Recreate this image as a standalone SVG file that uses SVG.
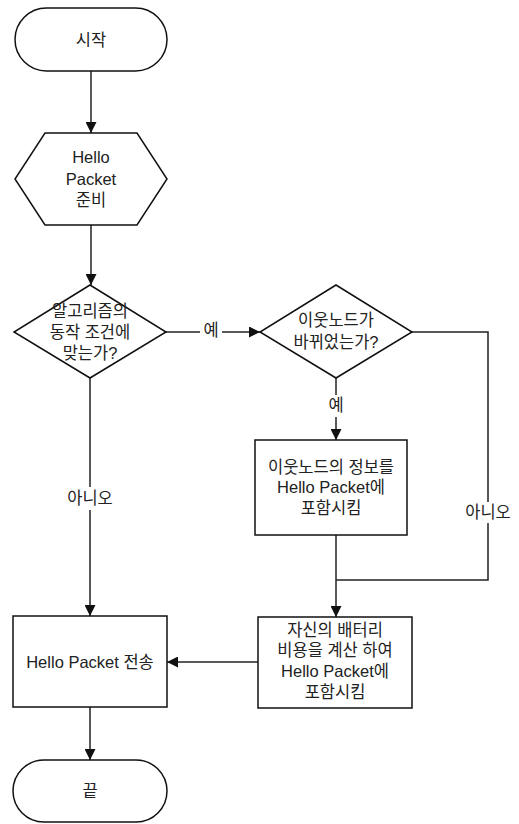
<svg xmlns="http://www.w3.org/2000/svg" width="519" height="824" viewBox="0 0 519 824">
<defs>
<style>
.s{fill:#fff;stroke:#111;stroke-width:1.5}
.c{fill:none;stroke:#222;stroke-width:1.5}
text{font-family:"Liberation Sans","Noto Sans CJK KR",sans-serif;font-size:16.5px;fill:#222;text-anchor:middle;dominant-baseline:central}
</style>
<marker id="ah" viewBox="0 0 10 10" refX="10" refY="5" markerWidth="11" markerHeight="11" markerUnits="userSpaceOnUse" orient="auto">
<path d="M0,0 L10,5 L0,10 z" fill="#111"/>
</marker>
</defs>
<rect width="519" height="824" fill="#fff"/>
<g id="connectors">
<path class="c" d="M91,71 V133" marker-end="url(#ah)"/>
<path class="c" d="M91,225 V285" marker-end="url(#ah)"/>
<path class="c" d="M166,332 H260" marker-end="url(#ah)"/>
<path class="c" d="M336,378 V440" marker-end="url(#ah)"/>
<path class="c" d="M412,332 H488 V580 H336"/>
<path class="c" d="M336,535 V617" marker-end="url(#ah)"/>
<path class="c" d="M90,378 V616" marker-end="url(#ah)"/>
<path class="c" d="M258,662 H167" marker-end="url(#ah)"/>
<path class="c" d="M90,707 V760" marker-end="url(#ah)"/>
<rect x="200" y="321" width="22" height="22" fill="#fff"/>
<text x="211" y="330">예</text>
<rect x="326" y="395" width="20" height="22" fill="#fff"/>
<text x="336" y="405">예</text>
<rect x="64" y="487" width="52" height="23" fill="#fff"/>
<text x="90" y="498">아니오</text>
<rect x="462" y="502" width="52" height="21" fill="#fff"/>
<text x="488" y="512">아니오</text>
</g>
<g id="start">
<rect class="s" x="15" y="8" width="152" height="63" rx="31.5"/>
<text x="91" y="40">시작</text>
</g>
<g id="prepare">
<polygon class="s" points="45,133 137,133 167,179 137,225 45,225 15,179"/>
<text x="91" y="157">Hello</text>
<text x="91" y="179">Packet</text>
<text x="91" y="200">준비</text>
</g>
<g id="cond1">
<polygon class="s" points="90,285 166,332 90,378 14,332"/>
<text x="90" y="311">알고리즘의</text>
<text x="90" y="332">동작 조건에</text>
<text x="90" y="353">맞는가?</text>
</g>
<g id="cond2">
<polygon class="s" points="336,285 412,332 336,378 260,332"/>
<text x="336" y="320">이웃노드가</text>
<text x="336" y="342">바뀌었는가?</text>
</g>
<g id="neighbor">
<rect class="s" x="255" y="440" width="152" height="95"/>
<text x="331" y="467">이웃노드의 정보를</text>
<text x="331" y="487">Hello Packet에</text>
<text x="331" y="508">포함시킴</text>
</g>
<g id="battery">
<rect class="s" x="258" y="617" width="154" height="91"/>
<text x="335" y="630">자신의 배터리</text>
<text x="335" y="650">비용을 계산 하여</text>
<text x="335" y="671">Hello Packet에</text>
<text x="335" y="692">포함시킴</text>
</g>
<g id="send">
<rect class="s" x="13" y="616" width="154" height="91"/>
<text x="90" y="662">Hello Packet 전송</text>
</g>
<g id="end">
<rect class="s" x="13" y="760" width="154" height="62" rx="31"/>
<text x="90" y="791">끝</text>
</g>
</svg>
